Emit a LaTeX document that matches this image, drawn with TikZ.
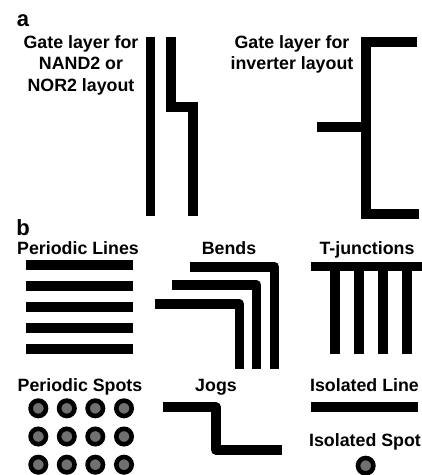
\documentclass[tikz,border=0pt]{standalone}
\usepackage{fontspec}
\setmainfont{Liberation Sans}
\definecolor{spotgris}{RGB}{112,112,112}
\tikzset{
  gate/.style={line width=9.7pt,black,line cap=butt},
  bendline/.style={gate,line join=round},
  lbl/.style={font=\fontsize{17.8}{21.7}\selectfont\bfseries,text=black,inner sep=0pt,anchor=base,align=center},
  panel/.style={lbl,font=\fontsize{22}{24}\selectfont\bfseries},
  spot/.style={fill=spotgris,draw=black,line width=4.6pt}
}
\begin{document}
\begin{tikzpicture}[x=1pt,y=-1pt]
      \useasboundingbox (0,0) rectangle (422,475);

      % panel a
      \node[panel] (pa) at (23,26.5) {a};
      \node[lbl,anchor=north] (nand) at (81,35) {Gate layer for\\NAND2 or\\NOR2 layout};
      \node[lbl,anchor=north] (inv) at (292,35) {Gate layer for\\inverter layout};

      \draw[gate] (150.5,36.5)--(150.5,215.5);
      \draw[gate] (170.8,36.5)--(170.8,107.2)--(192.8,107.2)--(192.8,216);
      \draw[gate] (417,42)--(366,42)--(366,214)--(419,214);
      \draw[gate] (317,127)--(366,127);

      % panel b
      \node[panel] (pb) at (23,235) {b};
      \node[lbl] (plines) at (78,254.5) {Periodic Lines};
      \node[lbl] (bends) at (229,254.5) {Bends};
      \node[lbl] (tjun) at (367,254.5) {T-junctions};
      \node[lbl] (pspots) at (80,391.5) {Periodic Spots};
      \node[lbl] (jogs) at (216,391.5) {Jogs};
      \node[lbl] (iline) at (364.5,391.5) {Isolated Line};
      \node[lbl] (ispot) at (365,446) {Isolated Spot};

      \foreach \y in {265,286,307,328,349}
        \draw[gate] (26,\y)--(133,\y);

      \draw[bendline] (190.3,266.7)--(274.4,266.7)--(274.4,369);
      \draw[bendline] (172.3,285)--(256.4,285)--(256.4,369);
      \draw[bendline] (155.3,304)--(239.4,304)--(239.4,369);

      \draw[gate] (311,266.5)--(422,266.5);
      \foreach \x in {335.3,359.3,383.3,406.7}
        \draw[gate] (\x,266.5)--(\x,354);

      \foreach \x in {38.3,66.8,95.3,124}
        \foreach \y in {408.3,436.5,464.7}
          \draw[spot] (\x,\y) circle (7.7pt);

      \draw[bendline] (163,407.3)--(216,407.3)--(216,450)--(281.7,450);
      \draw[gate] (311,407.3)--(418,407.3);
      \draw[spot] (365.7,465.7) circle (7.7pt);
    \end{tikzpicture}
\end{document}
